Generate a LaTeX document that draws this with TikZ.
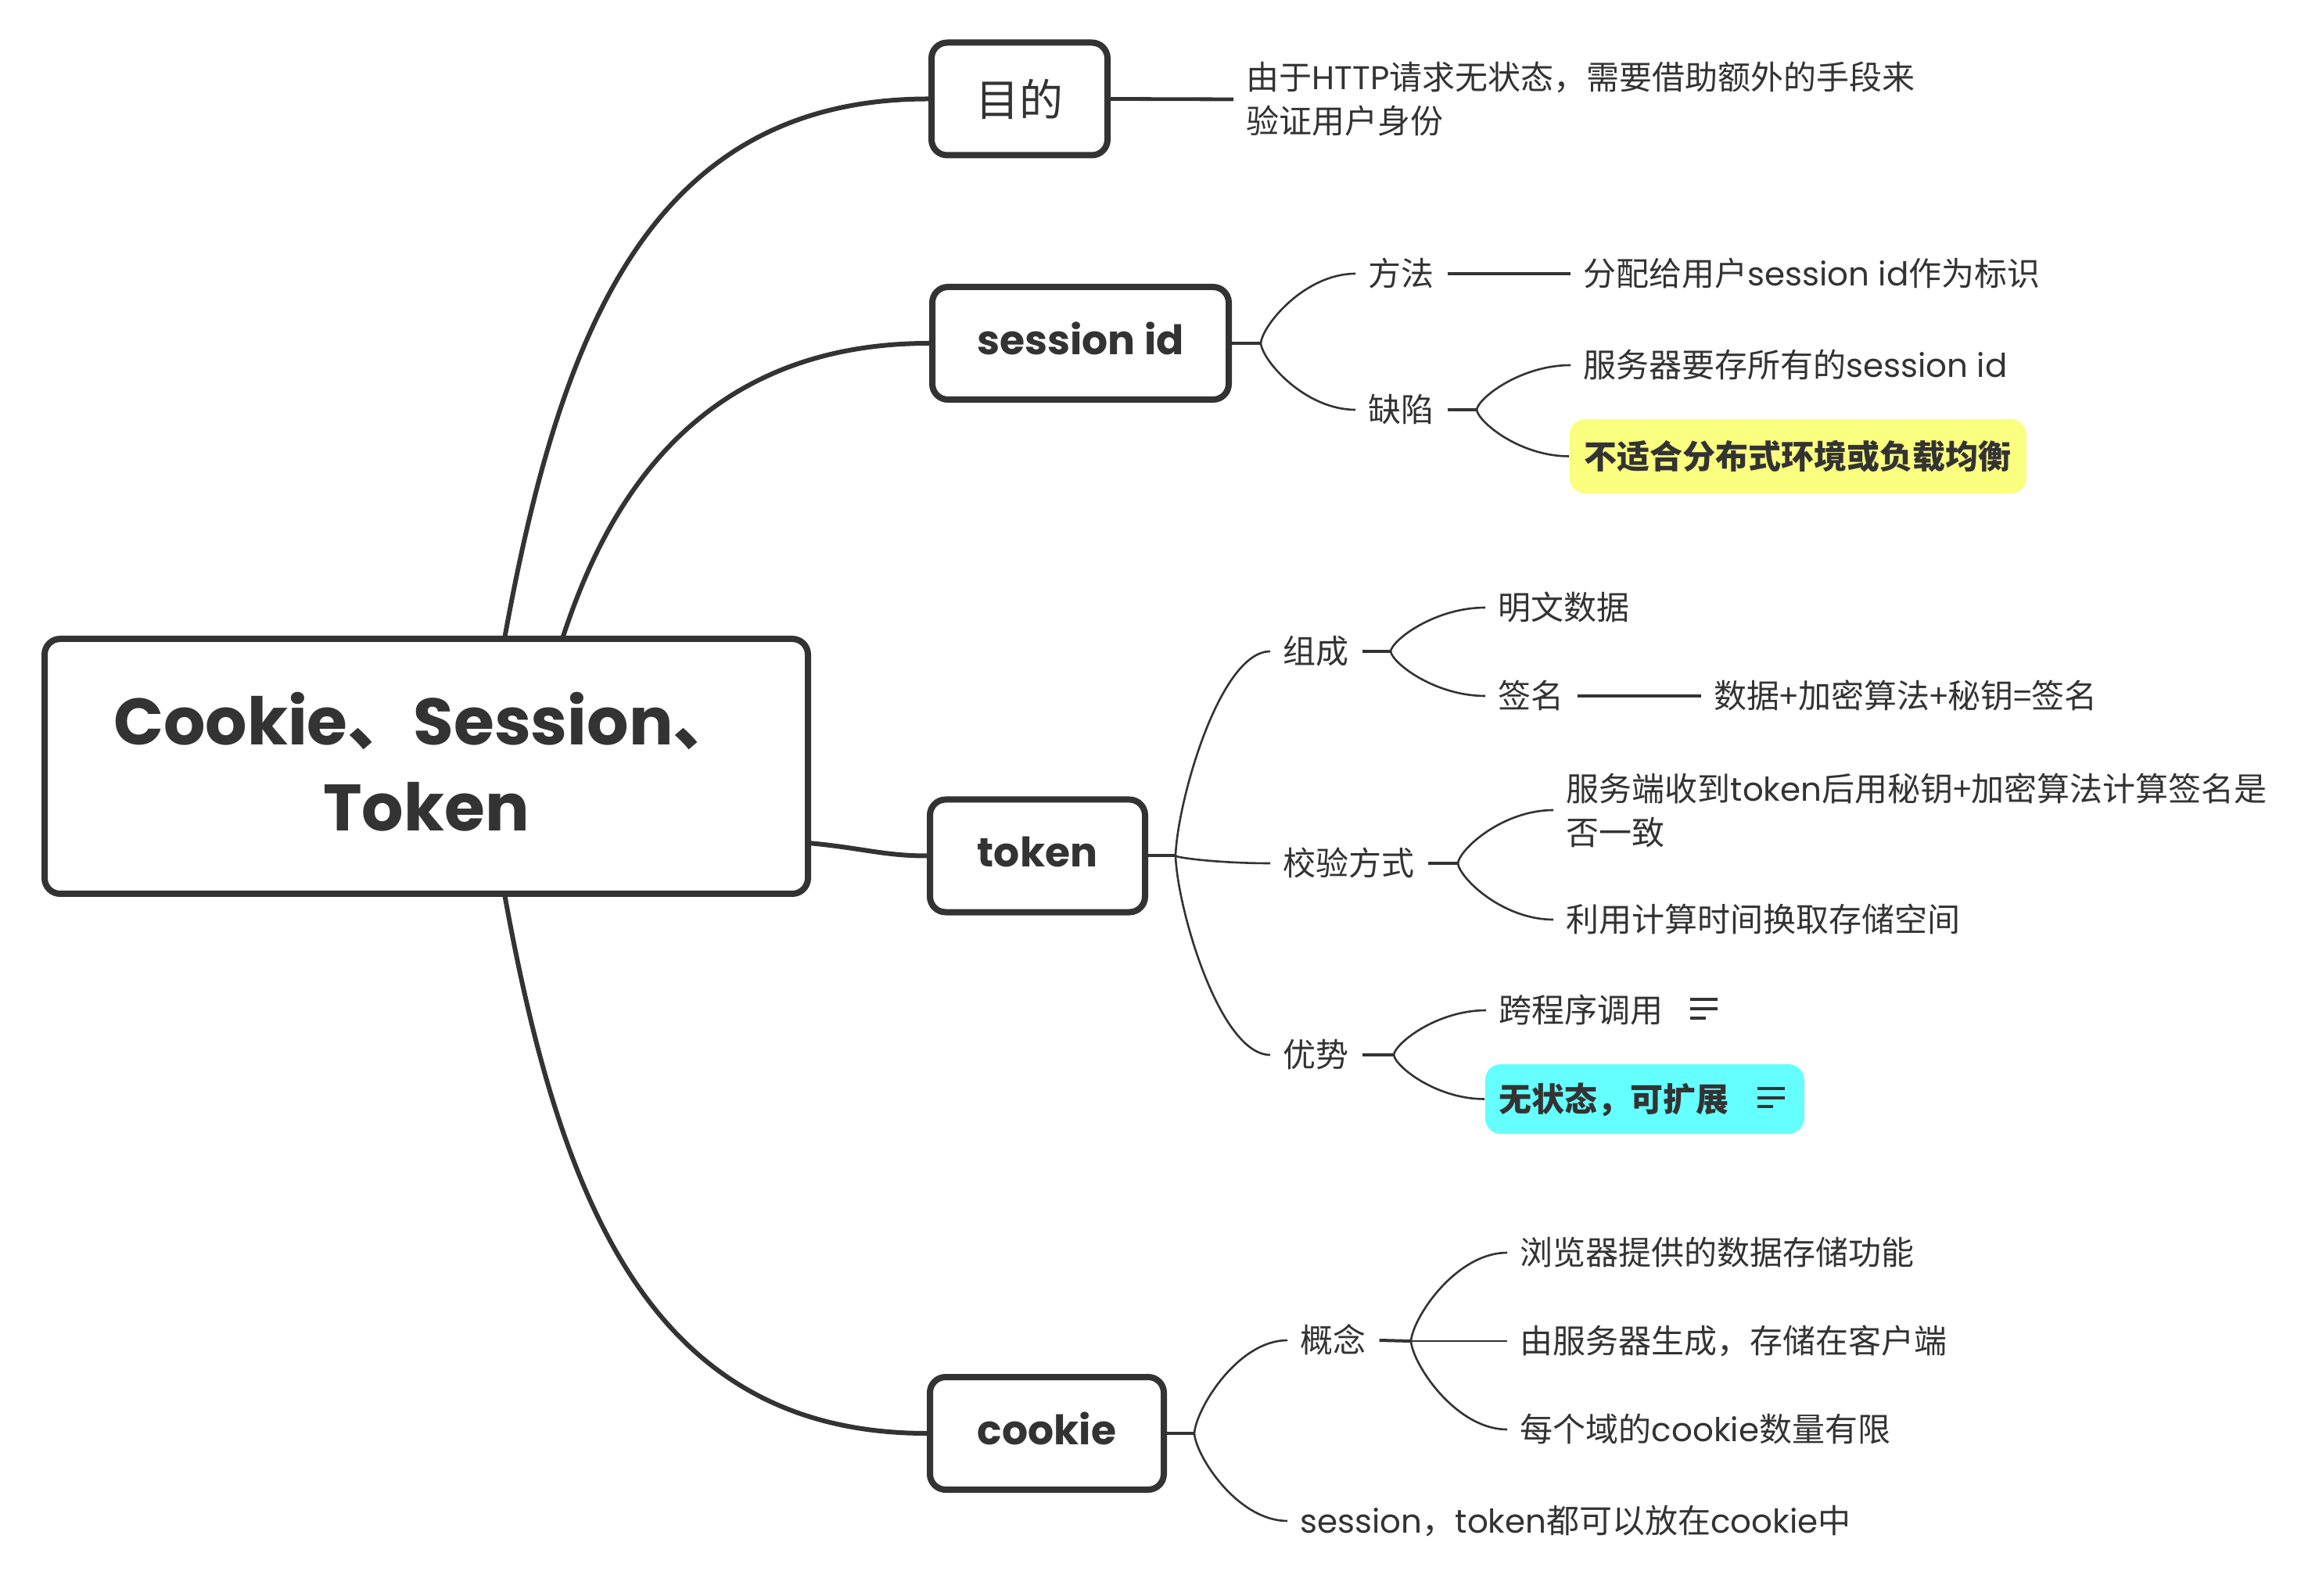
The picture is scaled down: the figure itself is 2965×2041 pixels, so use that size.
\documentclass[tikz,border=0pt]{standalone}
\usepackage{fontspec}
\setmainfont{Noto Sans CJK SC}
\newfontfamily\latfont{Poppins}
\newcommand\lat[1]{{\latfont #1}}
\usetikzlibrary{calc}
\definecolor{ink}{RGB}{51,51,51}
\definecolor{hly}{RGB}{250,255,128}
\definecolor{hlc}{RGB}{102,255,255}
\tikzset{
  rootbox/.style={draw=ink, line width=2pt, rounded corners=5pt, fill=white,
    minimum width=244pt, minimum height=81.5pt, inner sep=0pt},
  roottext/.style={inner sep=0pt, align=center,
    text=ink, font=\fontsize{21pt}{27.5pt}\selectfont\bfseries},
  lonebox/.style={draw=ink, line width=2pt, rounded corners=5pt, fill=white,
    minimum height=36pt, inner sep=0pt, text=ink,
    font=\fontsize{13pt}{16pt}\selectfont\bfseries},
  latbox/.style={text height=9.6pt, text depth=2.4pt},
  leaf/.style={anchor=west, inner xsep=4pt, inner ysep=0pt, text=ink,
    font=\fontsize{10.5pt}{14pt}\selectfont, align=left},
  oneline/.style={text height=8.8pt, text depth=0.9pt},
  hlbox/.style={anchor=west, rounded corners=5pt, inner xsep=4.5pt, inner ysep=0pt,
    text=ink, align=left},
  mainline/.style={draw=ink, line width=1.5pt},
  stubline/.style={draw=ink, line width=1pt},
  twig/.style={draw=ink, line width=0.65pt},
  noteicon/.style={draw=ink, line width=1pt},
}
\newcommand\twigcurve[2]{\draw[twig] let \p1=(#1), \p2=(#2) in (\p1) .. controls (\x1*0.98+\x2*0.02, \y1*0.73+\y2*0.27) and (\x1*0.53+\x2*0.47, \y2) .. (\p2);}
\begin{document}
\begin{tikzpicture}[x=0.25pt,y=-0.25pt]
\fill[white] (0,0) rectangle (2965,2041);
\useasboundingbox (0,0) rectangle (2965,2041);

% root and first level
\node[rootbox] (root) at (545,980) {};
\node[roottext] (roott) at (545,974) {\lat{Cookie}、\lat{Session}、\\\lat{Token}};
\node[lonebox, minimum width=56.25pt, font=\fontsize{14pt}{16pt}\selectfont] (mud) at (1303.5,126.5) {目的};
\node[lonebox, latbox, minimum width=94.75pt] (sid) at (1381.5,439) {\lat{session id}};
\node[lonebox, latbox, minimum width=68.75pt] (tok) at (1326.5,1094.5) {\lat{token}};
\node[lonebox, latbox, minimum width=74.75pt] (ck) at (1338.5,1833) {\lat{cookie}};

\coordinate (r1) at (645,817);
\coordinate (r2) at (719,817);
\coordinate (r3) at (1033,1078);
\coordinate (r4) at (645,1143);
\draw[mainline] (r1) .. controls (717,418) and (835,126.5) .. (mud.west);
\draw[mainline] (r2) .. controls (770,660) and (880,439) .. (sid.west);
\draw[mainline] (r3) .. controls (1100,1084) and (1130,1094.5) .. (tok.west);
\draw[mainline] (r4) .. controls (717,1542) and (835,1833) .. (ck.west);

% 目的
\node[leaf] (mudt) at (1577,127) {由于\lat{HTTP}请求无状态，需要借助额外的手段来\\验证用户身份};
\draw[stubline, line width=1.2pt] (mud.east) -- (mudt.west);

% session id
\coordinate (hs) at (1612,439);
\coordinate (hq) at (1888,524);
\node[leaf,oneline] (ff) at (1733,350) {方法};
\node[leaf,oneline] (qx) at (1733,524) {缺陷};
\node[leaf,oneline] (fp) at (2008,350) {分配给用户\lat{session id}作为标识};
\node[leaf,oneline] (fw) at (2008,467) {服务器要存所有的\lat{session id}};
\node[hlbox, fill=hly, inner xsep=4.75pt, minimum height=23.75pt, text height=8.8pt, text depth=0.9pt,
  font=\fontsize{10.5pt}{14pt}\selectfont\bfseries] (bs) at (2006,583.5) {不适合分布式环境或负载均衡};
\draw[stubline] (sid.east) -- (hs);
\twigcurve{hs}{ff.west}
\twigcurve{hs}{qx.west}
\draw[stubline, line width=0.85pt] (ff.east) -- (fp.west);
\draw[stubline] (qx.east) -- (hq);
\twigcurve{hq}{fw.west}
\twigcurve{hq}{bs.west}

% token
\coordinate (ht) at (1503,1094.5);
\coordinate (hzc) at (1778,833);
\coordinate (hjy) at (1864,1104);
\coordinate (hys) at (1782,1349);
\node[leaf,oneline] (zc) at (1624,833) {组成};
\node[leaf,oneline] (mw) at (1899,777) {明文数据};
\node[leaf,oneline] (qm) at (1899,890) {签名};
\node[leaf,oneline] (sj) at (2175,890) {数据+加密算法+秘钥=签名};
\node[leaf,oneline] (jy) at (1624,1104) {校验方式};
\node[leaf] (fwd) at (1986,1036) {服务端收到\lat{token}后用秘钥+加密算法计算签名是\\否一致};
\node[leaf,oneline] (ly) at (1986,1176) {利用计算时间换取存储空间};
\node[leaf,oneline] (ys) at (1624,1349) {优势};
\node[leaf,oneline] (kc) at (1900,1292) {跨程序调用};
\node[hlbox, fill=hlc, text width=93pt, minimum height=22.25pt, text height=8.8pt, text depth=0.9pt,
  font=\fontsize{10.5pt}{14pt}\selectfont\bfseries] (wz) at (1898,1405.5) {无状态，可扩展};
\draw[stubline] (tok.east) -- (ht);
\twigcurve{ht}{zc.west}
\twigcurve{ht}{jy.west}
\twigcurve{ht}{ys.west}
\draw[stubline] (zc.east) -- (hzc);
\twigcurve{hzc}{mw.west}
\twigcurve{hzc}{qm.west}
\draw[stubline, line width=0.85pt] (qm.east) -- (sj.west);
\draw[stubline] (jy.east) -- (hjy);
\twigcurve{hjy}{fwd.west}
\twigcurve{hjy}{ly.west}
\draw[stubline] (ys.east) -- (hys);
\twigcurve{hys}{kc.west}
\twigcurve{hys}{wz.west}
\draw[noteicon] (2161,1278) -- (2196,1278) (2161,1290) -- (2196,1290) (2161,1302) -- (2181,1302);
\draw[noteicon] (2247,1392) -- (2282,1392) (2247,1403.5) -- (2282,1403.5) (2247,1415) -- (2267,1415);

% cookie
\coordinate (hc) at (1527,1833);
\coordinate (hgn) at (1804,1715);
\node[leaf,oneline] (gn) at (1646,1714) {概念};
\node[leaf,oneline] (ll) at (1927,1602) {浏览器提供的数据存储功能};
\node[leaf,oneline] (yf) at (1927,1715) {由服务器生成，存储在客户端};
\node[leaf,oneline] (mg) at (1927,1828) {每个域的\lat{cookie}数量有限};
\node[leaf,oneline] (sc) at (1646,1945) {\lat{session}，\lat{token}都可以放在\lat{cookie}中};
\draw[stubline] (ck.east) -- (hc);
\twigcurve{hc}{gn.west}
\twigcurve{hc}{sc.west}
\draw[stubline] (gn.east) -- (hgn);
\twigcurve{hgn}{ll.west}
\draw[twig] (hgn) -- (yf.west);
\twigcurve{hgn}{mg.west}
\end{tikzpicture}
\end{document}
